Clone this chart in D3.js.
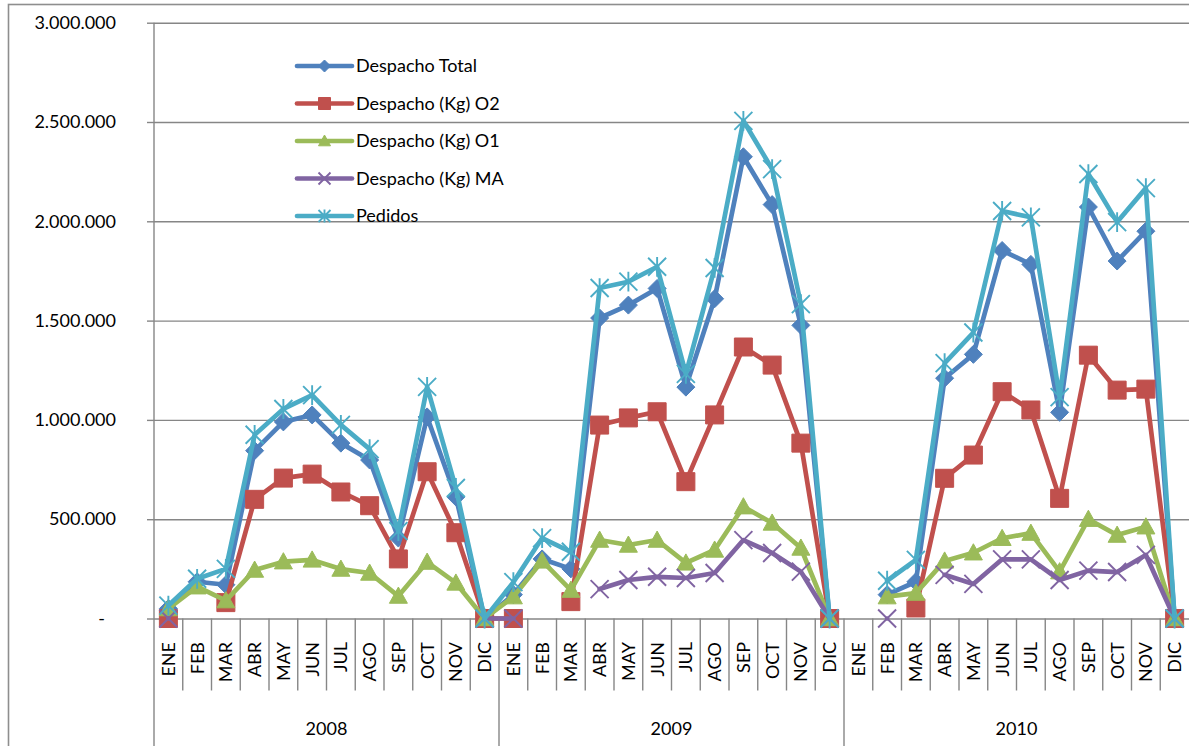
<!DOCTYPE html>
<html>
<head>
<meta charset="utf-8">
<script src="https://cdn.jsdelivr.net/npm/d3@7"></script>
<style>
  body { margin: 0; background: #fff; }
  text { font-family: Lato, "Open Sans", sans-serif; fill: #000; }
</style>
</head>
<body>
<div id="chart"></div>
<script>
// #############################################################
// DATA
// #############################################################
var months = ["ENE", "FEB", "MAR", "ABR", "MAY", "JUN", "JUL", "AGO", "SEP", "OCT", "NOV", "DIC"];
var years = ["2008", "2009", "2010"];
var yTicks = [0, 500000, 1000000, 1500000, 2000000, 2500000, 3000000];

var seriesNames = ["Despacho Total", "Despacho (Kg) O2", "Despacho (Kg) O1", "Despacho (Kg) MA", "Pedidos"];

var despachoTotal = [
  50000, 185000, 170000, 845000, 990000, 1025000, 883000, 798000, 405000, 1015000, 612000, 0,
  120000, 300000, 250000, 1513000, 1578000, 1662000, 1165000, 1610000, 2325000, 2084000, 1476000, 0,
  null, 120000, 185000, 1210000, 1330000, 1853000, 1783000, 1038000, 2072000, 1800000, 1950000, 0
];
var despachoO2 = [
  0, null, 80000, 600000, 707000, 727000, 637000, 568000, 300000, 739000, 432000, 0,
  0, null, 85000, 974000, 1010000, 1041000, 689000, 1025000, 1367000, 1276000, 883000, 0,
  null, null, 53000, 706000, 823000, 1142000, 1050000, 605000, 1326000, 1150000, 1155000, 0
];
var despachoO1 = [
  50000, 160000, 90000, 244000, 286000, 295000, 249000, 229000, 113000, 284000, 179000, 0,
  110000, 290000, 143000, 395000, 370000, 395000, 280000, 345000, 563000, 481000, 355000, 0,
  null, 110000, 128000, 290000, 331000, 404000, 430000, 236000, 500000, 420000, 462000, 0
];
var despachoMA = [
  0, null, null, null, null, null, null, null, null, null, null, 0,
  0, null, null, 148000, 194000, 210000, 204000, 229000, 395000, 330000, 236000, 0,
  null, 0, null, 220000, 174000, 298000, 298000, 194000, 241000, 234000, 320000, 0
];
var pedidos = [
  65000, 200000, 250000, 925000, 1055000, 1125000, 975000, 853000, 440000, 1166000, 657000, 0,
  183000, 405000, 336000, 1664000, 1696000, 1771000, 1232000, 1765000, 2506000, 2263000, 1583000, 0,
  null, 190000, 295000, 1286000, 1440000, 2052000, 2020000, 1115000, 2238000, 1996000, 2167000, 0
];

// #############################################################
// PART I. SVG CANVAS
// #############################################################
var margin = {top: 22.7, left: 154},
    width = 1035,
    height = 595.8;

var fontSize = "18px";

var root = d3.select("#chart")
  .append("svg")
    .attr("width", 1189)
    .attr("height", 746);

// outer chart frame (right and bottom edges fall outside the picture)
root.append("rect")
    .attr("x", 8.5)
    .attr("y", 4.5)
    .attr("width", 1300)
    .attr("height", 900)
    .attr("fill", "none")
    .attr("stroke", "#8e8e8e")
    .attr("stroke-width", 1.6);

var svg = root.append("g")
    .attr("transform", "translate(" + margin.left + "," + margin.top + ")");

// #############################################################
// PART II. SCALES, GRID & AXES
// #############################################################
var categories = [];
years.forEach(y => months.forEach(m => categories.push(y + "|" + m)));

var xScale = d3.scaleBand()
    .domain(categories)
    .range([0, width]);

var yScale = d3.scaleLinear()
    .domain([0, 3000000])
    .range([height, 0]);

var loc = d3.formatLocale({decimal: ",", thousands: ".", grouping: [3], currency: ["", ""]});
var fmt = loc.format(",d");

var lineColor = "#868686";

// horizontal gridlines
svg.append("g")
    .attr("class", "grid")
    .call(d3.axisLeft(yScale).tickValues(yTicks).tickSize(-width).tickFormat(""))
    .call(g => g.select(".domain").remove())
    .call(g => g.selectAll("line").attr("stroke", lineColor).attr("stroke-width", 1.4));

// y axis labels + outside ticks
svg.append("g")
    .attr("id", "yAxis")
    .call(d3.axisLeft(yScale).tickValues(yTicks).tickSize(7).tickPadding(31)
        .tickFormat(d => d === 0 ? "-" : fmt(d)))
    .call(g => g.select(".domain").remove())
    .call(g => g.selectAll("line").attr("stroke", lineColor).attr("stroke-width", 1.4))
    .call(g => g.selectAll("text")
        .attr("font-size", fontSize)
        .attr("font-family", "Lato, sans-serif")
        .attr("fill", "#000")
        .attr("dx", d => d === 0 ? -11 : 0));

// vertical axis line, running down through the category area
svg.append("line")
    .attr("x1", 0).attr("x2", 0)
    .attr("y1", 0).attr("y2", 746 - margin.top)
    .attr("stroke", lineColor)
    .attr("stroke-width", 1.4);

// month dividers
svg.append("g").selectAll("line")
    .data(categories.slice(1))
    .enter()
    .append("line")
    .attr("x1", d => xScale(d)).attr("x2", d => xScale(d))
    .attr("y1", height)
    .attr("y2", d => d.split("|")[1] === "ENE" ? 746 - margin.top : height + 72)
    .attr("stroke", lineColor)
    .attr("stroke-width", 1.4);

// month labels
svg.append("g").selectAll("text")
    .data(categories)
    .enter()
    .append("text")
    .attr("transform", d => "translate(" + (xScale(d) + xScale.bandwidth() / 2) + "," + (height + 23.5) + ") rotate(-90)")
    .attr("text-anchor", "end")
    .attr("dy", "0.36em")
    .attr("font-size", fontSize)
    .text(d => d.split("|")[1]);

// year labels
svg.append("g").selectAll("text")
    .data(years)
    .enter()
    .append("text")
    .attr("x", (d, i) => xScale(d + "|ENE") + xScale.bandwidth() * 6)
    .attr("y", height + 116.5)
    .attr("text-anchor", "middle")
    .attr("font-size", fontSize)
    .text(d => d);

// #############################################################
// PART III. SERIES
// #############################################################
var seriesValues = [despachoTotal, despachoO2, despachoO1, despachoMA, pedidos];
var seriesColors = ["#4F81BD", "#C0504D", "#9BBB59", "#8064A2", "#4BACC6"];
var seriesMarkers = ["diamond", "square", "triangle", "x", "star"];

function markerPath(type, r) {
    if (type === "diamond") return "M0," + (-r) + "L" + r + ",0L0," + r + "L" + (-r) + ",0Z";
    if (type === "square") return "M" + (-r) + "," + (-r) + "H" + r + "V" + r + "H" + (-r) + "Z";
    if (type === "triangle") return "M0," + (-r) + "L" + r + "," + (r * 0.8) + "L" + (-r) + "," + (r * 0.8) + "Z";
    var p = "M" + (-r) + "," + (-r) + "L" + r + "," + r + "M" + (-r) + "," + r + "L" + r + "," + (-r);
    if (type === "star") p += "M0," + (-r * 1.1) + "V" + (r * 1.1);
    return p;
}

function styleMarker(sel, i) {
    var open = seriesMarkers[i] === "x" || seriesMarkers[i] === "star";
    sel.attr("fill", open ? "none" : seriesColors[i])
       .attr("stroke", seriesColors[i])
       .attr("stroke-width", open ? 1.9 : 1);
}

var line = d3.line()
    .defined(d => d.v !== null)
    .x(d => xScale(d.c) + xScale.bandwidth() / 2)
    .y(d => yScale(d.v));

seriesValues.forEach((vals, i) => {
    var pts = categories.map((c, j) => ({c: c, v: vals[j]}));
    var g = svg.append("g").attr("class", "series");

    g.append("path")
        .datum(pts)
        .attr("d", line)
        .attr("fill", "none")
        .attr("stroke", seriesColors[i])
        .attr("stroke-width", 4.7)
        .attr("stroke-linejoin", "round")
        .attr("stroke-linecap", "round");

    g.selectAll(".marker")
        .data(pts.filter(d => d.v !== null))
        .enter()
        .append("path")
        .attr("class", "marker")
        .attr("transform", d => "translate(" + (xScale(d.c) + xScale.bandwidth() / 2) + "," + yScale(d.v) + ")")
        .attr("d", markerPath(seriesMarkers[i], 9))
        .call(styleMarker, i);
});

// #############################################################
// PART IV. LEGEND
// #############################################################
var legend = root.append("g")
    .attr("transform", "translate(297,66)");

seriesNames.forEach((name, i) => {
    var row = legend.append("g").attr("transform", "translate(0," + (i * 37.5) + ")");
    row.append("line")
        .attr("x1", 0).attr("x2", 55)
        .attr("stroke", seriesColors[i])
        .attr("stroke-width", 4.7)
        .attr("stroke-linecap", "round");
    row.append("path")
        .attr("transform", "translate(27.5,0)")
        .attr("d", markerPath(seriesMarkers[i], 6))
        .call(styleMarker, i);
    row.append("text")
        .attr("x", 59)
        .attr("dy", "0.36em")
        .attr("font-size", fontSize)
        .text(name);
});
</script>
</body>
</html>
